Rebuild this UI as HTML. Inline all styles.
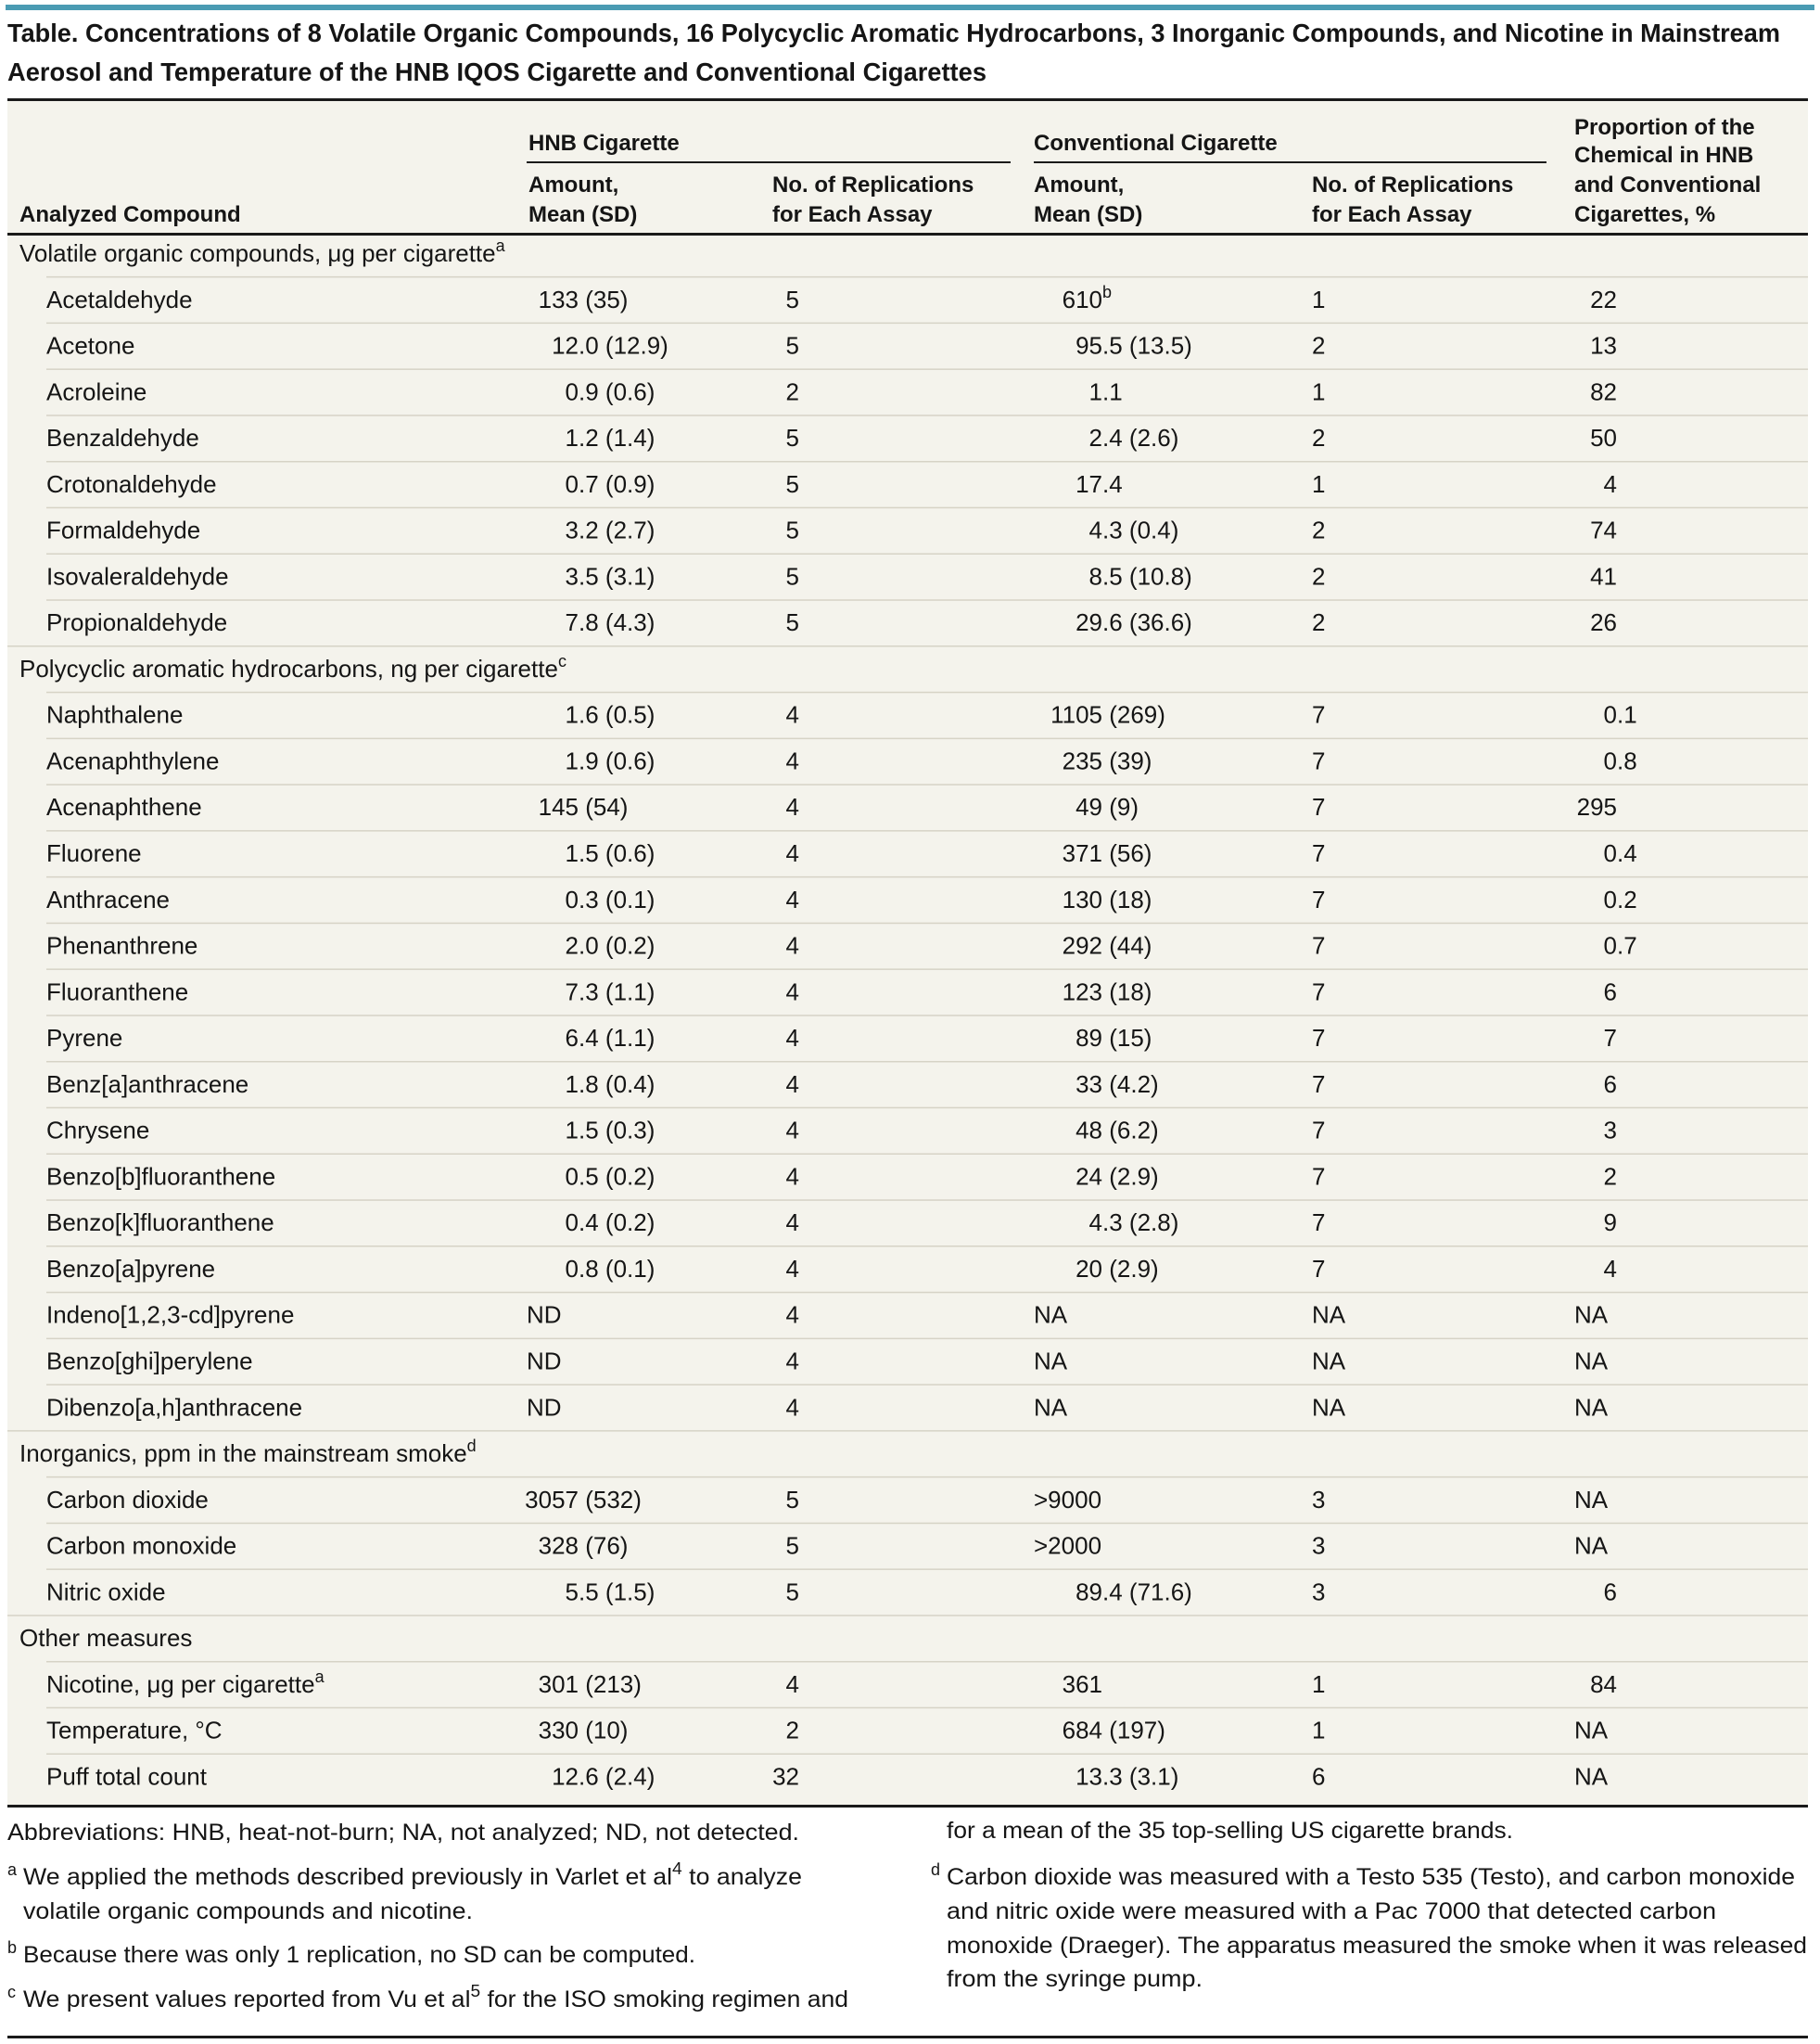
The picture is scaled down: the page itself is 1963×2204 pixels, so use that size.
<!DOCTYPE html>
<html><head><meta charset="utf-8"><style>
html,body{margin:0;padding:0;background:#fff}
svg{display:block}
text{font-family:"Liberation Sans",sans-serif;fill:#151515}
.h{font-weight:bold;font-size:24px}
.b{font-size:26px}
.f{font-size:25px}
.s{font-size:18px}
</style></head><body>
<svg width="1963" height="2204" xmlns="http://www.w3.org/2000/svg">
<rect x="6" y="5" width="1951" height="6" fill="#4a9bb3"/>
<text x="8" y="45" font-size="28" font-weight="bold" textLength="1912" lengthAdjust="spacingAndGlyphs">Table. Concentrations of 8 Volatile Organic Compounds, 16 Polycyclic Aromatic Hydrocarbons, 3 Inorganic Compounds, and Nicotine in Mainstream</text>
<text x="8" y="87" font-size="28" font-weight="bold" textLength="1056" lengthAdjust="spacingAndGlyphs">Aerosol and Temperature of the HNB IQOS Cigarette and Conventional Cigarettes</text>
<rect x="8" y="106" width="1942" height="1842" fill="#f4f3ec"/>
<rect x="8" y="106" width="1942" height="3" fill="#1a1a1a"/>
<rect x="8" y="251" width="1942" height="3" fill="#1a1a1a"/>
<rect x="8" y="1946" width="1942" height="3" fill="#1a1a1a"/>
<rect x="568" y="174" width="522" height="2" fill="#1a1a1a"/>
<rect x="1115" y="174" width="553" height="2" fill="#1a1a1a"/>
<g class="h">
<text x="21" y="239">Analyzed Compound</text>
<text x="570" y="162">HNB Cigarette</text>
<text x="570" y="207">Amount,</text><text x="570" y="239">Mean (SD)</text>
<text x="833" y="207">No. of Replications</text><text x="833" y="239">for Each Assay</text>
<text x="1115" y="162">Conventional Cigarette</text>
<text x="1115" y="207">Amount,</text><text x="1115" y="239">Mean (SD)</text>
<text x="1415" y="207">No. of Replications</text><text x="1415" y="239">for Each Assay</text>
<text x="1698" y="145">Proportion of the</text>
<text x="1698" y="175">Chemical in HNB</text>
<text x="1698" y="207">and Conventional</text>
<text x="1698" y="239">Cigarettes, %</text>
</g>
<g id="rows"></g>
<g class="f">
<text x="8" y="1984" textLength="854" lengthAdjust="spacingAndGlyphs">Abbreviations: HNB, heat-not-burn; NA, not analyzed; ND, not detected.</text>
<text x="8" y="2022" class="s">a</text>
<text x="25" y="2032" textLength="840" lengthAdjust="spacingAndGlyphs">We applied the methods described previously in Varlet et al<tspan class="s" dy="-11">4</tspan><tspan dy="11"> to analyze</tspan></text>
<text x="25" y="2069" textLength="485" lengthAdjust="spacingAndGlyphs">volatile organic compounds and nicotine.</text>
<text x="8" y="2106" class="s">b</text>
<text x="25" y="2116" textLength="725" lengthAdjust="spacingAndGlyphs">Because there was only 1 replication, no SD can be computed.</text>
<text x="8" y="2154" class="s">c</text>
<text x="25" y="2164" textLength="890" lengthAdjust="spacingAndGlyphs">We present values reported from Vu et al<tspan class="s" dy="-11">5</tspan><tspan dy="11"> for the ISO smoking regimen and</tspan></text>
<text x="1021" y="1982" textLength="611" lengthAdjust="spacingAndGlyphs">for a mean of the 35 top-selling US cigarette brands.</text>
<text x="1004" y="2022" class="s">d</text>
<text x="1021" y="2032" textLength="915" lengthAdjust="spacingAndGlyphs">Carbon dioxide was measured with a Testo 535 (Testo), and carbon monoxide</text>
<text x="1021" y="2069" textLength="830" lengthAdjust="spacingAndGlyphs">and nitric oxide were measured with a Pac 7000 that detected carbon</text>
<text x="1021" y="2106" textLength="928" lengthAdjust="spacingAndGlyphs">monoxide (Draeger). The apparatus measured the smoke when it was released</text>
<text x="1021" y="2142" textLength="276" lengthAdjust="spacingAndGlyphs">from the syringe pump.</text>
</g>
<rect x="8" y="2195" width="1942" height="3" fill="#1a1a1a"/>
</svg>
<script>
var R=[
["G","Volatile organic compounds, μg per cigarette","a"],
["Acetaldehyde","133 (35)","5","610|b","1","22"],
["Acetone","12.0 (12.9)","5","95.5 (13.5)","2","13"],
["Acroleine","0.9 (0.6)","2","1.1","1","82"],
["Benzaldehyde","1.2 (1.4)","5","2.4 (2.6)","2","50"],
["Crotonaldehyde","0.7 (0.9)","5","17.4","1","4"],
["Formaldehyde","3.2 (2.7)","5","4.3 (0.4)","2","74"],
["Isovaleraldehyde","3.5 (3.1)","5","8.5 (10.8)","2","41"],
["Propionaldehyde","7.8 (4.3)","5","29.6 (36.6)","2","26"],
["G","Polycyclic aromatic hydrocarbons, ng per cigarette","c"],
["Naphthalene","1.6 (0.5)","4","1105 (269)","7","0.1"],
["Acenaphthylene","1.9 (0.6)","4","235 (39)","7","0.8"],
["Acenaphthene","145 (54)","4","49 (9)","7","295"],
["Fluorene","1.5 (0.6)","4","371 (56)","7","0.4"],
["Anthracene","0.3 (0.1)","4","130 (18)","7","0.2"],
["Phenanthrene","2.0 (0.2)","4","292 (44)","7","0.7"],
["Fluoranthene","7.3 (1.1)","4","123 (18)","7","6"],
["Pyrene","6.4 (1.1)","4","89 (15)","7","7"],
["Benz[a]anthracene","1.8 (0.4)","4","33 (4.2)","7","6"],
["Chrysene","1.5 (0.3)","4","48 (6.2)","7","3"],
["Benzo[b]fluoranthene","0.5 (0.2)","4","24 (2.9)","7","2"],
["Benzo[k]fluoranthene","0.4 (0.2)","4","4.3 (2.8)","7","9"],
["Benzo[a]pyrene","0.8 (0.1)","4","20 (2.9)","7","4"],
["Indeno[1,2,3-cd]pyrene","ND","4","NA","NA","NA"],
["Benzo[ghi]perylene","ND","4","NA","NA","NA"],
["Dibenzo[a,h]anthracene","ND","4","NA","NA","NA"],
["G","Inorganics, ppm in the mainstream smoke","d"],
["Carbon dioxide","3057 (532)","5",">9000","3","NA"],
["Carbon monoxide","328 (76)","5",">2000","3","NA"],
["Nitric oxide","5.5 (1.5)","5","89.4 (71.6)","3","6"],
["G","Other measures",""],
["Nicotine, μg per cigarette|a","301 (213)","4","361","1","84"],
["Temperature, °C","330 (10)","2","684 (197)","1","NA"],
["Puff total count","12.6 (2.4)","32","13.3 (3.1)","6","NA"]
];
var g=document.getElementById("rows");
function esc(s){return s.replace(/&/g,"&amp;").replace(/</g,"&lt;").replace(/>/g,"&gt;").replace(/ /g,"\u00a0");}
function sup(s){var p=s.split("|");return esc(p[0])+(p[1]?'<tspan class="s" dy="-11">'+p[1]+'</tspan>':'');}
var h="";
function dec(v,endx,leftx,y){
 if(!/^[0-9]/.test(v)){h+='<text class="b" x="'+leftx+'" y="'+y+'">'+esc(v)+'</text>';return;}
 var m=v.match(/^([0-9]+)(.*)$/);
 h+='<text class="b" x="'+endx+'" y="'+y+'" text-anchor="end">'+m[1]+'</text>';
 if(m[2])h+='<text class="b" x="'+endx+'" y="'+y+'">'+sup(m[2])+'</text>';
}
for(var k=0;k<R.length;k++){
 var r=R[k],c=273+k*49.77,y=(c+9).toFixed(1);
 if(k>0){var ly=(c-24.9).toFixed(1);var lx=(r[0]=="G")?8:50;
  h+='<rect x="'+lx+'" y="'+ly+'" width="'+(1950-lx)+'" height="1.5" fill="#d6d3c6"/>';}
 if(r[0]=="G"){h+='<text class="b" x="21" y="'+y+'">'+esc(r[1])+(r[2]?'<tspan class="s" dy="-11">'+r[2]+'</tspan>':'')+'</text>';continue;}
 h+='<text class="b" x="50" y="'+y+'">'+sup(r[0])+'</text>';
 dec(r[1],624,568,y);
 h+='<text class="b" x="862" y="'+y+'" text-anchor="end">'+r[2]+'</text>';
 dec(r[3],1189,1115,y);
 h+='<text class="b" x="1415" y="'+y+'">'+r[4]+'</text>';
 dec(r[5],1744,1698,y);
}
g.innerHTML=h;
</script>
</body></html>
